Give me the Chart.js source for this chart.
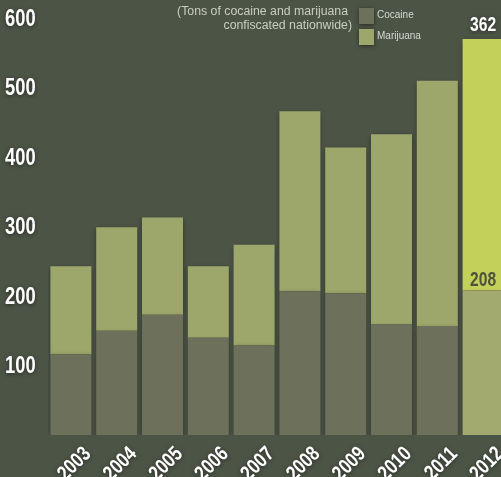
<!DOCTYPE html>
<html>
<head>
<meta charset="utf-8">
<script src="https://cdn.jsdelivr.net/npm/chart.js@4.4.1/dist/chart.umd.min.js"></script>
<style>
  html, body { margin: 0; padding: 0; overflow: hidden; background: #4c5446; }
  #wrap { width: 506px; height: 477px; }
</style>
</head>
<body>
<div id="wrap"><canvas id="chart"></canvas></div>
<script>
const years = ['2003', '2004', '2005', '2006', '2007', '2008', '2009', '2010', '2011', '2012'];
const cocaine = [116, 150, 173, 140, 129, 207, 204, 159, 157, 208];
const marijuana = [127, 149, 140, 103, 145, 259, 210, 274, 353, 362];
const yTicks = [100, 200, 300, 400, 500, 600];
const subtitleLines = ['(Tons of cocaine and marijuana', 'confiscated nationwide)'];

const FONT = "'Liberation Sans', Arial, sans-serif";
// no condensed face installed, so labels get squeezed horizontally
const SQUEEZE = 0.78;

// last year is highlighted
const cocaineColors = years.map((y, i) => i === years.length - 1 ? '#a2aa70' : '#6d705b');
const marijuanaColors = years.map((y, i) => i === years.length - 1 ? '#c3d15b' : '#9ea76b');

function setShadow(ctx, on) {
  ctx.shadowColor = on ? 'rgba(0, 0, 0, 0.5)' : 'transparent';
  ctx.shadowBlur = on ? 4 : 0;
  ctx.shadowOffsetX = 0;
  ctx.shadowOffsetY = on ? 1 : 0;
}

function squeezedText(ctx, text, x, y, angle, squeeze) {
  ctx.save();
  ctx.translate(x, y);
  if (angle) ctx.rotate(angle);
  ctx.scale(squeeze || SQUEEZE, 1);
  ctx.fillText(text, 0, 0);
  ctx.restore();
}

// soft shadow under the bars
const shadowPlugin = {
  id: 'shadow',
  beforeDatasetsDraw(chart) {
    const ctx = chart.ctx;
    ctx.shadowColor = 'rgba(0, 0, 0, 0.4)';
    ctx.shadowBlur = 5;
    ctx.shadowOffsetX = 0;
    ctx.shadowOffsetY = 2;
  }
};

// axis labels, subtitle, legend and the two value labels on the last bar
const overlayPlugin = {
  id: 'overlay',
  afterDraw(chart) {
    const ctx = chart.ctx;
    const xScale = chart.scales.x;
    const yScale = chart.scales.y;
    ctx.save();

    // y tick labels
    setShadow(ctx, true);
    ctx.fillStyle = '#ffffff';
    ctx.font = 'bold 23.5px ' + FONT;
    ctx.textAlign = 'left';
    ctx.textBaseline = 'middle';
    yScale.ticks.forEach(t => {
      squeezedText(ctx, String(t.value), 5, yScale.getPixelForValue(t.value) + 1);
    });

    // x tick labels, rotated
    ctx.font = 'bold 21px ' + FONT;
    ctx.textAlign = 'right';
    ctx.textBaseline = 'alphabetic';
    years.forEach((label, i) => {
      squeezedText(ctx, label, xScale.getPixelForTick(i) + 21, yScale.bottom + 20, -Math.PI / 4, 0.8);
    });

    // subtitle
    setShadow(ctx, false);
    ctx.font = "12.3px 'Liberation Sans', sans-serif";
    ctx.fillStyle = '#c9cdc0';
    ctx.textAlign = 'right';
    ctx.textBaseline = 'middle';
    ctx.fillText(subtitleLines[0], 348, 12);
    ctx.fillText(subtitleLines[1], 352, 26);

    // legend
    chart.data.datasets.forEach((ds, i) => {
      const top = 8 + i * 21;
      setShadow(ctx, true);
      ctx.fillStyle = ds.legendColor;
      ctx.fillRect(359, top, 15, 16);
      setShadow(ctx, false);
      ctx.fillStyle = '#d6d8cf';
      ctx.font = "10px 'Liberation Sans', sans-serif";
      ctx.textAlign = 'left';
      ctx.fillText(ds.label, 377, top + 7);
    });

    // value labels on 2012
    const last = years.length - 1;
    const topBar = chart.getDatasetMeta(1).data[last];
    const lowBar = chart.getDatasetMeta(0).data[last];
    ctx.textAlign = 'center';
    ctx.textBaseline = 'alphabetic';
    ctx.font = 'bold 20px ' + FONT;
    setShadow(ctx, true);
    ctx.fillStyle = '#ffffff';
    squeezedText(ctx, String(marijuana[last]), topBar.x, topBar.y - 8);
    setShadow(ctx, false);
    ctx.fillStyle = '#4f5338';
    squeezedText(ctx, String(cocaine[last]), lowBar.x, lowBar.y - 5);
    ctx.restore();
  }
};

new Chart(document.getElementById('chart'), {
  type: 'bar',
  data: {
    labels: years,
    datasets: [{
      label: 'Cocaine',
      data: cocaine,
      backgroundColor: cocaineColors,
      legendColor: '#6d705b',
      barPercentage: 0.895,
      categoryPercentage: 1
    }, {
      label: 'Marijuana',
      data: marijuana,
      backgroundColor: marijuanaColors,
      legendColor: '#9ea76b',
      barPercentage: 0.895,
      categoryPercentage: 1
    }]
  },
  options: {
    responsive: true,
    maintainAspectRatio: false,
    animation: false,
    layout: { padding: { left: 5, top: 0, right: 0, bottom: 0 } },
    plugins: {
      legend: { display: false },
      tooltip: { enabled: false }
    },
    scales: {
      x: {
        stacked: true,
        grid: { display: false },
        border: { display: false },
        afterFit: (axis) => { axis.height = 42; },
        ticks: {
          color: 'rgba(0,0,0,0)',
          font: { family: FONT, size: 19, weight: 'bold' },
          minRotation: 45,
          maxRotation: 45,
          padding: 0
        }
      },
      y: {
        stacked: true,
        min: 0,
        max: 602,
        grid: { display: false },
        border: { display: false },
        afterFit: (axis) => { axis.width = 43; },
        afterBuildTicks: (axis) => { axis.ticks = yTicks.map(v => ({ value: v })); },
        ticks: {
          color: 'rgba(0,0,0,0)',
          crossAlign: 'far',
          font: { family: FONT, size: 23, weight: 'bold', lineHeight: 1.2 }
        }
      }
    }
  },
  plugins: [shadowPlugin, overlayPlugin]
});
</script>
</body>
</html>
